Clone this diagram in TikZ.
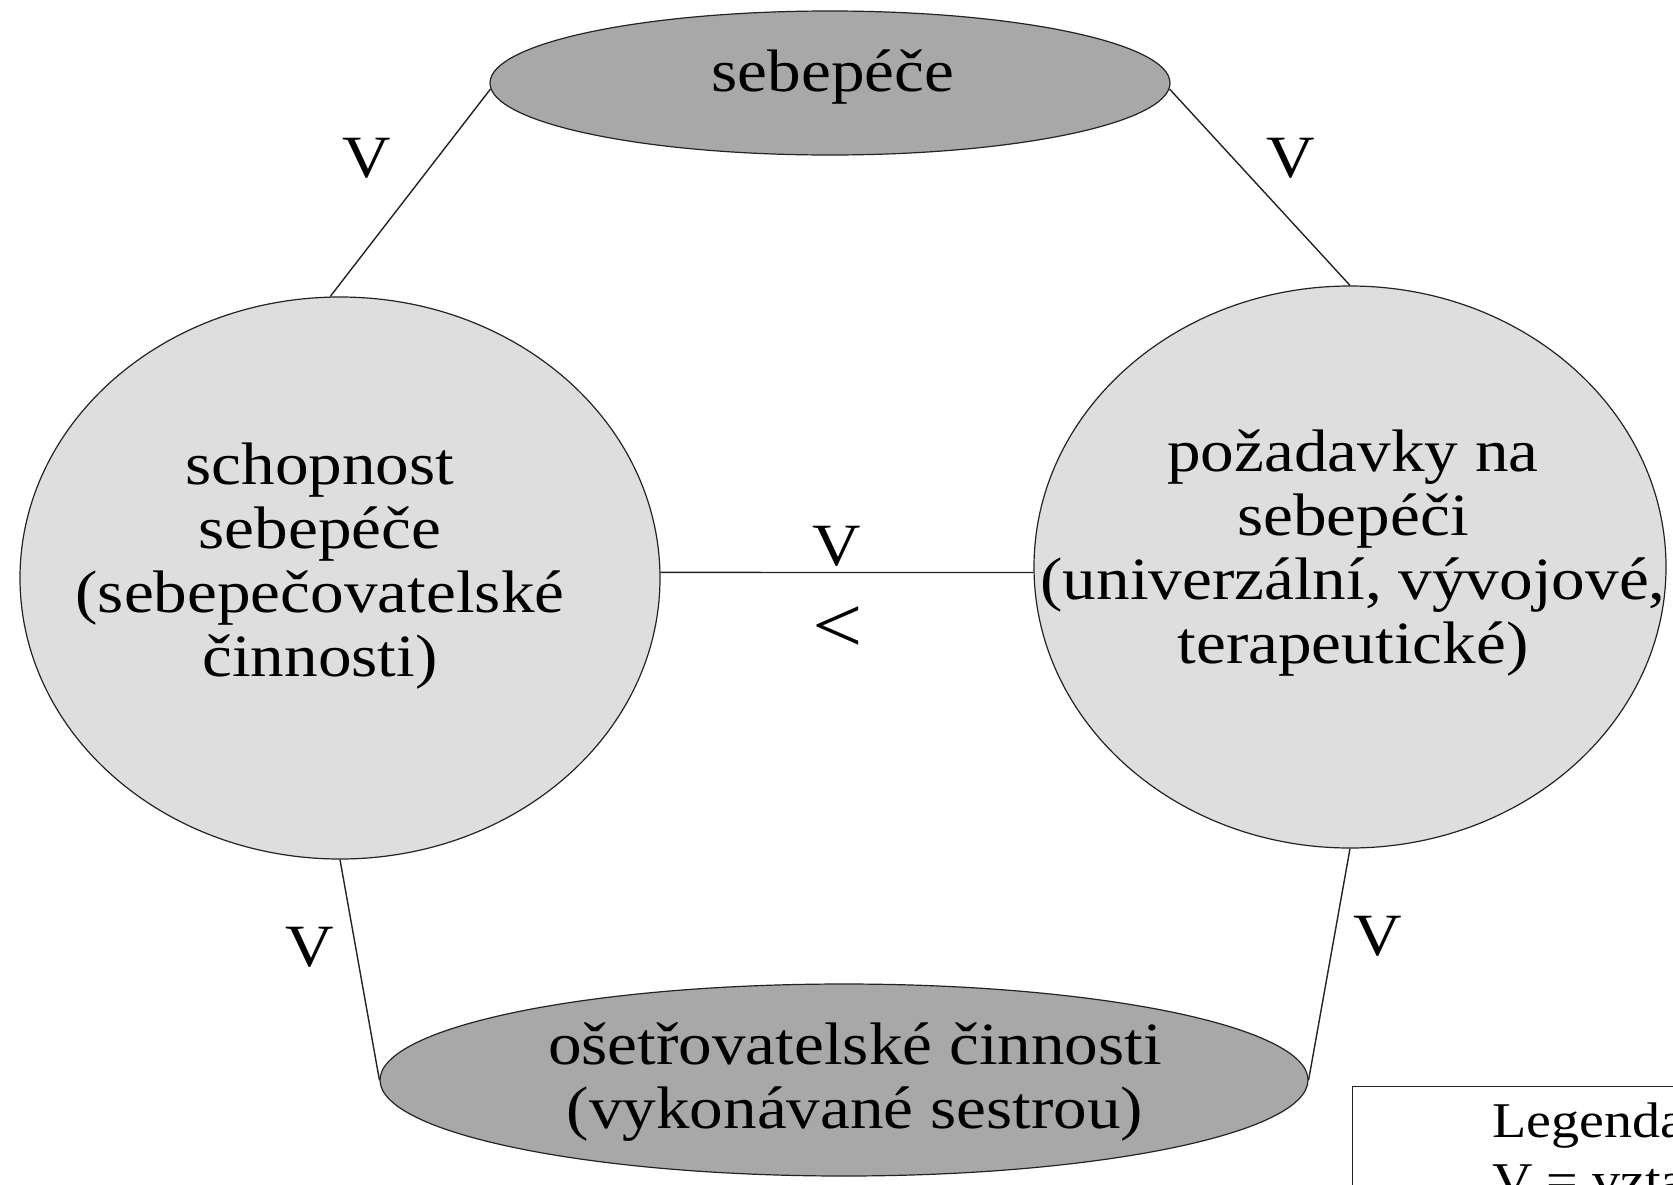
\documentclass[tikz,border=0pt]{standalone}
\usepackage{fontspec}
\setmainfont{Liberation Serif}[FakeStretch=1.12]
\usetikzlibrary{shapes.geometric}
\definecolor{darkfill}{RGB}{168,168,168}
\definecolor{lightfill}{RGB}{222,222,222}
\definecolor{inkline}{RGB}{35,35,35}
\begin{document}
\begin{tikzpicture}[x=1pt,y=-1pt,
  oval/.style={ellipse, draw=inkline, line width=1.2pt, inner sep=0pt},
  lbl/.style={font=\fontsize{60}{64}\selectfont, inner sep=0pt, align=center, text=black},
  biglbl/.style={font=\fontsize{80}{80}\selectfont, inner sep=0pt, text=black},
  leg/.style={font=\fontsize{50}{60}\selectfont, inner sep=0pt, anchor=base west, text=black},
  conn/.style={line width=1.4pt, draw=inkline}]
\useasboundingbox (0,0) rectangle (1673,1184);
\clip (0,0) rectangle (1673,1184);
\fill[white] (0,0) rectangle (1673,1184);

% shapes
\node[oval, fill=darkfill, minimum width=680pt, minimum height=144pt] (top) at (830,83) {};
\node[oval, fill=lightfill, minimum width=640pt, minimum height=562pt] (left) at (340,578) {};
\node[oval, fill=lightfill, minimum width=632pt, minimum height=562pt] (right) at (1350,567) {};
\node[oval, fill=darkfill, minimum width=928pt, minimum height=192pt] (bot) at (844,1080) {};

% texts
\node[lbl] (toptext) at (833,77) {sebepéče};
\node[lbl] (lefttext) at (320,566) {schopnost\\sebepéče\\(sebepečovatelské\\činnosti)};
\node[lbl] (righttext) at (1353,553) {požadavky na\\sebepéči\\(univerzální, vývojové,\\terapeutické)};
\node[lbl] (bottext) at (855,1082) {ošetřovatelské činnosti\\(vykonávané sestrou)};

% connectors
\draw[conn] (top.181) -- (left.92);
\draw[conn] (top.359) -- (right.90);
\draw[conn] (left.1) -- (right.181);
\draw[conn] (left.270) -- (bot.west);
\draw[conn] (right.270) -- (bot.east);

% relation labels
\node[lbl] (vtl) at (367,158) {V};
\node[lbl] (vtr) at (1291,158) {V};
\node[lbl] (vmid) at (837,546) {V};
\node[biglbl] (lt) at (838,630) {<};
\node[lbl] (vbl) at (310,947) {V};
\node[lbl] (vbr) at (1378,936) {V};

% legend
\node[draw=inkline, line width=1.2pt, fill=white, anchor=north west, minimum width=400pt, minimum height=200pt, inner sep=0pt] (legend) at (1352,1086) {};
\node[leg] (legtitle) at (1492,1137) {Legenda};
\node[leg] (legline) at (1492,1197) {V = vzta};
\end{tikzpicture}
\end{document}
